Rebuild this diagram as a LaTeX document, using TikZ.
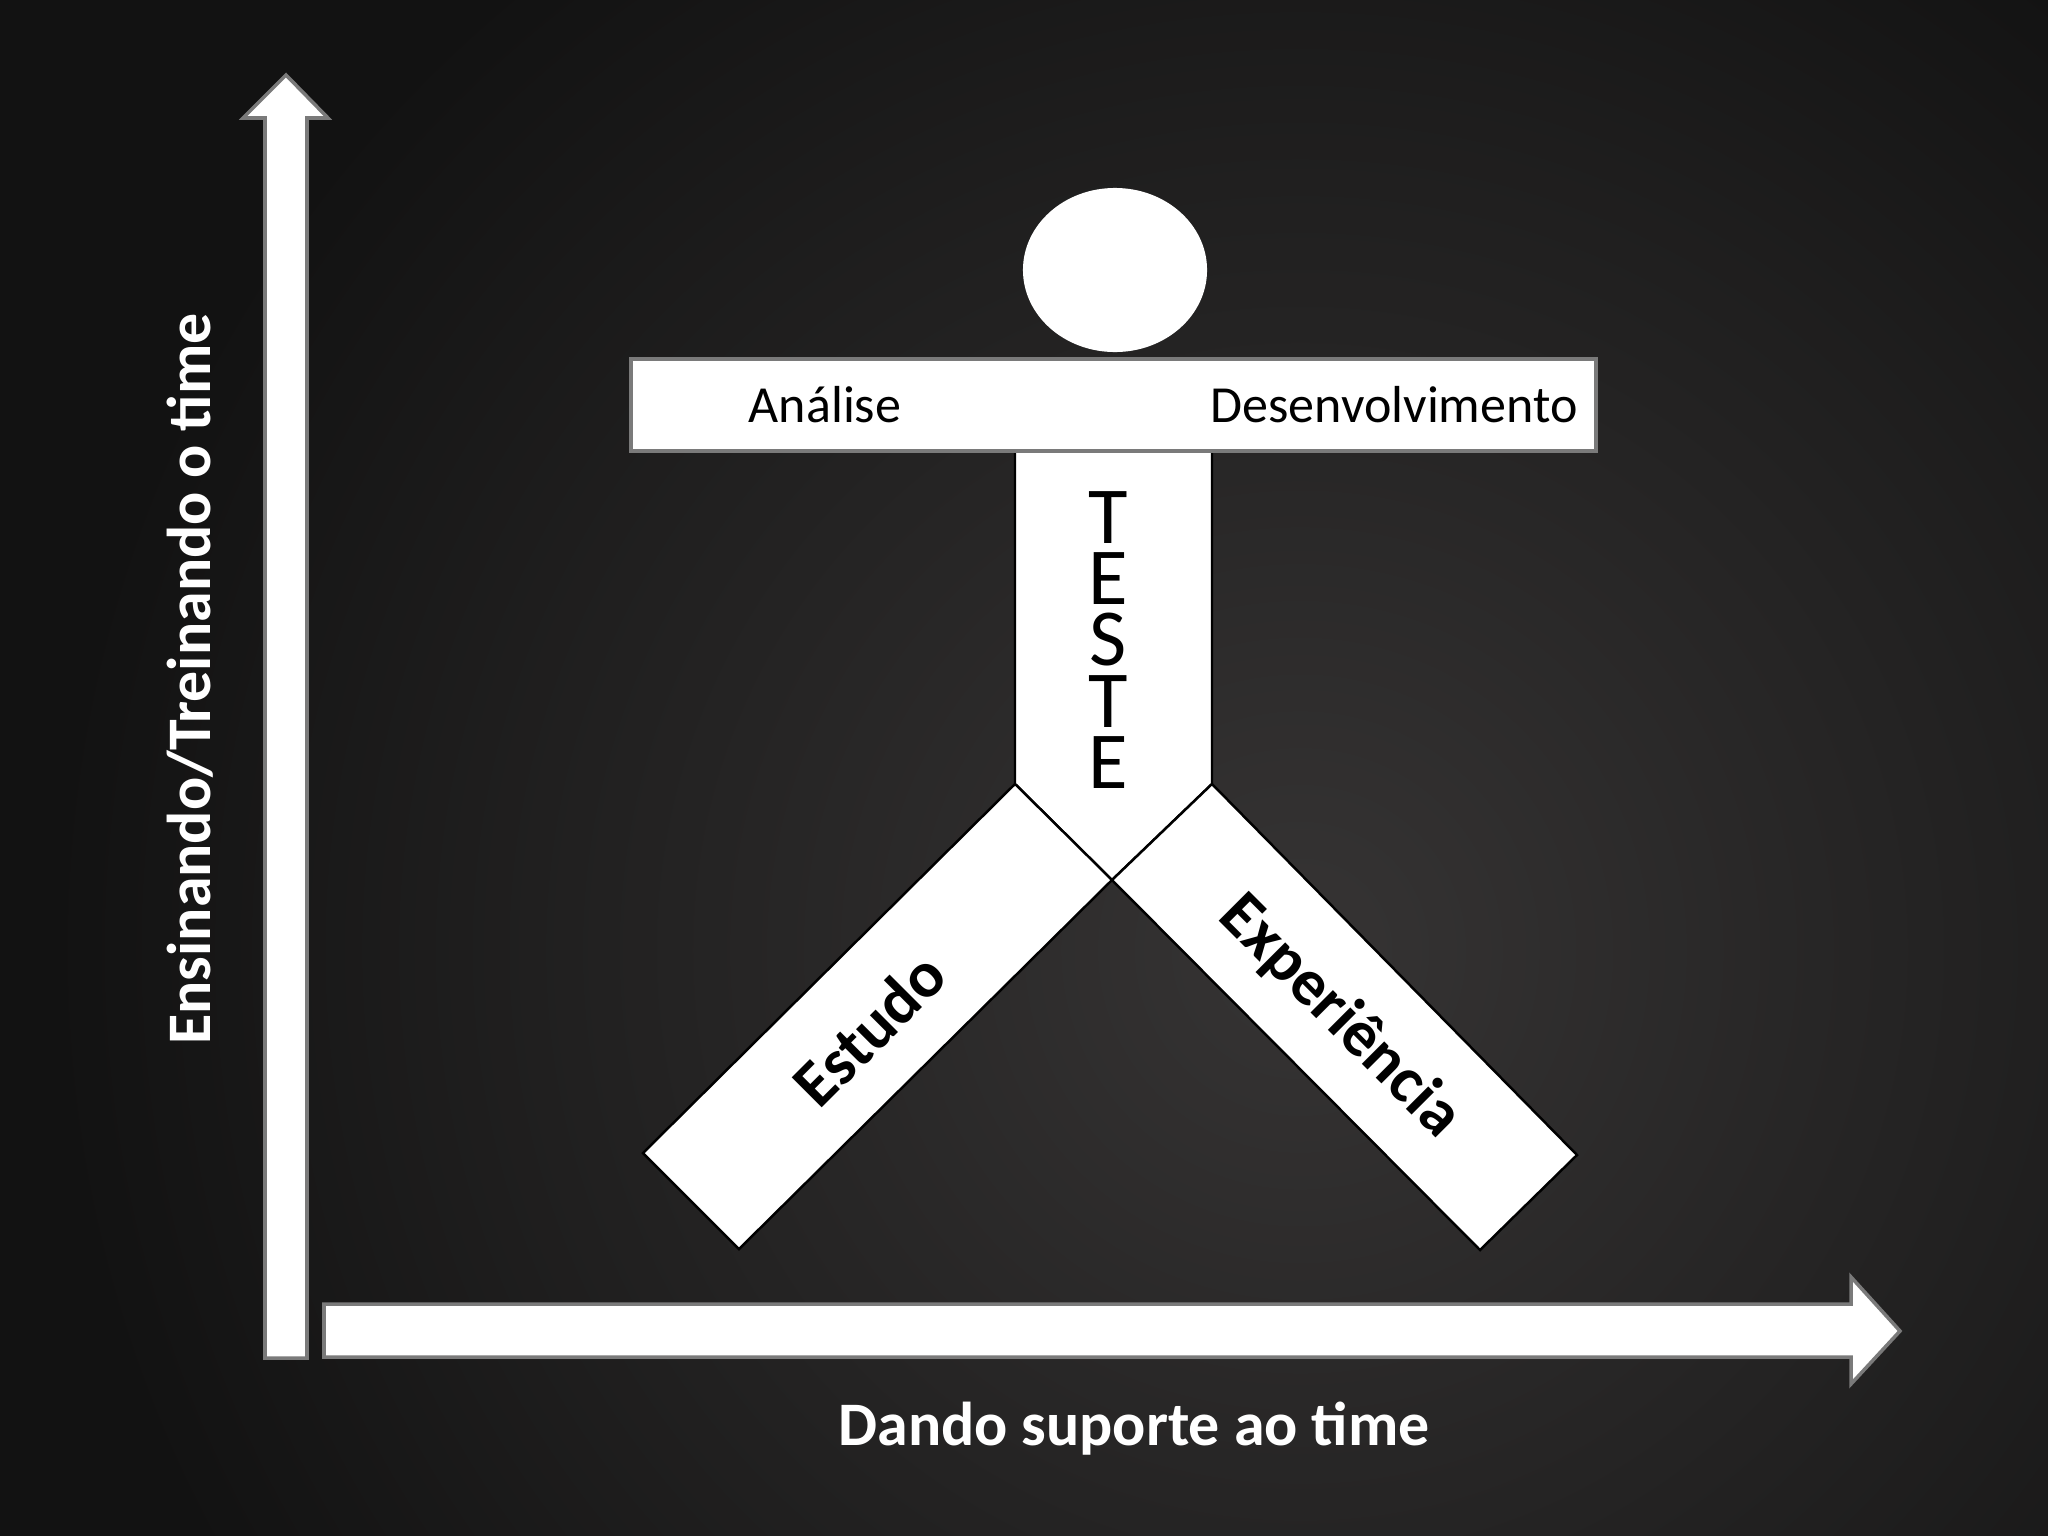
\documentclass[tikz,border=0pt]{standalone}
\usepackage{fontspec}
\setmainfont{Carlito}
\definecolor{bgbase}{HTML}{121212}
\definecolor{bglight}{HTML}{363434}
\definecolor{edgegray}{HTML}{7A7A7A}
\tikzset{
  whiteshape/.style={fill=white, draw=edgegray, line width=1pt},
  legshape/.style={fill=white, draw=black, line width=0.7pt},
  barlabel/.style={font=\fontsize{14.8}{17}\selectfont, text=black, inner sep=0pt},
  leglabel/.style={font=\bfseries\fontsize{18.6}{21}\selectfont, text=black, inner sep=0pt},
  axislabel/.style={font=\bfseries\fontsize{17.6}{20}\selectfont, text=white, inner sep=0pt},
}
\begin{document}
\begin{tikzpicture}[x=0.01cm,y=-0.01cm]
\useasboundingbox (0,0) rectangle (2048,1536);
% background
\fill[bgbase] (0,0) rectangle (2048,1536);
\begin{scope}
  \clip (0,0) rectangle (2048,1536);
  \shade[inner color=bglight, outer color=bgbase] (1300,950) circle[radius=12.5cm];
\end{scope}
% axes arrows
\draw[whiteshape] (265,1358) -- (265,118) -- (243,118) -- (286,75) -- (328,118) -- (307,118) -- (307,1358) -- cycle;
\draw[whiteshape] (324,1304) -- (1851,1304) -- (1851,1277) -- (1900,1331) -- (1851,1384) -- (1851,1357) -- (324,1357) -- cycle;
% figure
\draw[legshape] (1015,451) -- (1212,451) -- (1212,784) -- (1112,880) -- (1015,784) -- cycle;
\draw[legshape] (1015,784) -- (1112,880) -- (739,1249) -- (643,1153) -- cycle;
\draw[legshape] (1212,784) -- (1112,880) -- (1480,1250) -- (1577,1155) -- cycle;
\draw[whiteshape] (631,359) rectangle (1596,451);
\fill[white] (1115,270) ellipse[x radius=0.92cm, y radius=0.82cm];
% labels
\node[barlabel, anchor=base] (analise) at (825,422) {Análise};
\node[barlabel, anchor=base] (desenv) at (1394,422) {Desenvolvimento};
\node[text=black, inner sep=0pt, align=center, font=\fontsize{23}{17.4}\selectfont] (teste) at (1108,640) {T\\E\\S\\T\\E};
\node[leglabel, rotate=45] (estudo) at (869,1029) {Estudo};
\node[leglabel, rotate=-45] (exper) at (1340,1017) {Experiência};
\node[axislabel, anchor=base] (dando) at (1134,1445) {Dando suporte ao time};
\node[axislabel, rotate=90] (ensin) at (190,679) {Ensinando/Treinando o time};
\end{tikzpicture}
\end{document}
